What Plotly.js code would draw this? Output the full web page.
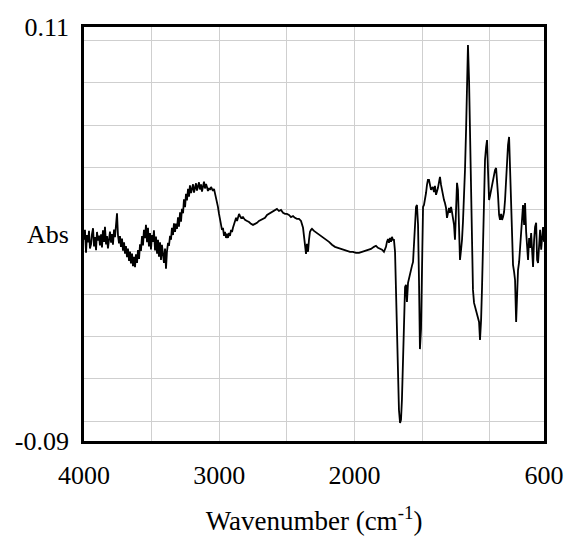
<!DOCTYPE html>
<html>
<head>
<meta charset="utf-8">
<script src="https://cdn.plot.ly/plotly-3.0.1.min.js"></script>
<style>html,body{margin:0;padding:0;background:#fff;}#chart{width:566px;height:536px;}</style>
</head>
<body>
<div id="chart"></div>
<script>
// Wavenumber (cm-1)
const wavenumber = [
4000,3993,3985,3978,3970,3963,3956,3948,3941,3933,3926,3919,3911,3904,3897,3889,3882,3874,3867,3860,
3852,3845,3837,3830,3823,3815,3808,3800,3793,3786,3778,3771,3763,3756,3749,3741,3734,3727,3719,3712,
3704,3697,3690,3682,3675,3667,3660,3653,3645,3638,3630,3623,3616,3608,3601,3593,3586,3579,3571,3564,
3557,3549,3542,3534,3527,3520,3512,3505,3497,3490,3483,3475,3468,3460,3453,3446,3438,3431,3424,3409,
3401,3394,3387,3379,3372,3364,3357,3350,3342,3335,3327,3320,3313,3305,3298,3290,3283,3276,3268,3261,
3253,3246,3239,3231,3224,3217,3209,3202,3194,3187,3180,3172,3165,3158,3150,3143,3135,3128,3121,3113,
3106,3098,3091,3084,3076,3069,3061,3054,3047,3039,3032,3024,3017,3010,3002,2995,2987,2980,2973,2965,
2958,2950,2943,2936,2928,2921,2913,2906,2899,2891,2884,2876,2869,2862,2854,2847,2839,2825,2810,2795,
2780,2766,2751,2736,2721,2707,2692,2677,2662,2647,2633,2618,2603,2588,2574,2559,2544,2529,2514,2500,
2485,2470,2455,2441,2426,2411,2396,2381,2374,2367,2359,2352,2344,2337,2330,2322,2315,2300,2278,2256,
2234,2211,2189,2167,2145,2123,2101,2078,2056,2034,2012,1990,1967,1945,1923,1901,1879,1857,1842,1827,
1812,1797,1783,1768,1761,1753,1746,1738,1731,1724,1716,1709,1701,1694,1687,1679,1672,1664,1657,1650,
1642,1635,1627,1620,1613,1605,1598,1591,1583,1576,1568,1561,1554,1546,1539,1531,1524,1517,1509,1502,
1494,1487,1480,1472,1465,1458,1450,1443,1435,1428,1421,1413,1406,1398,1391,1384,1376,1369,1361,1354,
1347,1339,1332,1324,1317,1310,1302,1295,1287,1280,1273,1265,1258,1250,1243,1236,1228,1221,1213,1206,
1199,1191,1184,1176,1169,1162,1154,1147,1139,1132,1125,1117,1102,1088,1080,1073,1065,1058,1051,1043,
1036,1028,1021,1014,1006,999,991,984,977,969,962,954,947,940,932,925,917,910,903,895,
888,880,873,866,858,851,843,836,829,821,814,806,799,792,784,777,769,762,755,747,
740,732,725,718,710,703,695,688,681,673,666,658,651,644,636,629,621,614,607,600
];
// Absorbance
const absorbance = [
0.0072,0.0120,0.0010,0.0095,0.0060,0.0115,0.0030,0.0050,0.0100,0.0128,0.0040,0.0085,0.0022,0.0110,0.0068,0.0092,0.0045,0.0098,0.0035,0.0118,
0.0062,0.0135,0.0050,0.0090,0.0030,0.0075,0.0112,0.0058,0.0100,0.0048,0.0122,0.0085,0.0150,0.0200,0.0095,0.0055,0.0090,0.0038,0.0078,0.0020,
0.0060,0.0005,0.0042,-0.0012,0.0030,-0.0030,0.0015,-0.0042,0.0005,-0.0055,-0.0010,-0.0060,0.0002,-0.0040,0.0022,-0.0020,0.0050,0.0018,0.0090,0.0045,
0.0120,0.0080,0.0145,0.0060,0.0130,0.0040,0.0105,0.0025,0.0095,0.0062,0.0118,0.0020,0.0088,0.0005,0.0072,-0.0010,0.0060,-0.0025,0.0048,-0.0040,
0.0030,-0.0068,0.0014,0.0057,0.0043,0.0091,0.0072,0.0130,0.0095,0.0152,0.0110,0.0150,0.0125,0.0180,0.0135,0.0205,0.0160,0.0222,0.0200,0.0268,
0.0230,0.0294,0.0262,0.0318,0.0280,0.0335,0.0298,0.0320,0.0340,0.0300,0.0325,0.0345,0.0310,0.0335,0.0350,0.0315,0.0340,0.0305,0.0330,0.0353,
0.0320,0.0342,0.0327,0.0308,0.0322,0.0313,0.0327,0.0313,0.0308,0.0318,0.0298,0.0284,0.0264,0.0231,0.0197,0.0168,0.0139,0.0120,0.0130,0.0091,
0.0110,0.0081,0.0101,0.0081,0.0105,0.0091,0.0120,0.0110,0.0130,0.0149,0.0168,0.0178,0.0163,0.0182,0.0197,0.0187,0.0178,0.0182,0.0168,0.0163,
0.0158,0.0149,0.0144,0.0149,0.0154,0.0163,0.0168,0.0173,0.0178,0.0192,0.0197,0.0206,0.0211,0.0216,0.0221,0.0211,0.0216,0.0202,0.0197,0.0197,
0.0192,0.0182,0.0187,0.0178,0.0173,0.0173,0.0163,0.0130,0.0081,0.0038,0.0004,0.0052,0.0014,0.0072,0.0110,0.0120,0.0125,0.0115,0.0105,0.0091,
0.0081,0.0072,0.0062,0.0048,0.0038,0.0033,0.0028,0.0024,0.0019,0.0014,0.0014,0.0009,0.0009,0.0014,0.0019,0.0024,0.0028,0.0038,0.0043,0.0033,
0.0028,0.0024,0.0014,0.0038,0.0062,0.0076,0.0057,0.0081,0.0062,0.0086,0.0072,0.0072,0.0014,-0.0170,-0.0359,-0.0605,-0.0750,-0.0813,-0.0798,-0.0701,
-0.0508,-0.0315,-0.0156,-0.0146,-0.0228,-0.0136,-0.0112,-0.0093,-0.0074,-0.0054,-0.0035,0.0072,0.0192,0.0231,0.0240,0.0144,-0.0122,-0.0456,-0.0359,0.0072,
0.0231,0.0240,0.0264,0.0298,0.0337,0.0361,0.0361,0.0342,0.0313,0.0322,0.0327,0.0303,0.0332,0.0289,0.0303,0.0322,0.0351,0.0376,0.0337,0.0313,
0.0279,0.0264,0.0250,0.0226,0.0178,0.0206,0.0226,0.0202,0.0231,0.0206,0.0178,0.0144,0.0072,0.0264,0.0347,0.0313,0.0168,-0.0025,0.0024,0.0072,
0.0158,0.0264,0.0409,0.0603,0.0820,0.1013,0.0844,0.0554,0.0313,0.0086,-0.0170,-0.0233,-0.0267,-0.0306,-0.0325,-0.0412,-0.0315,-0.0156,0.0072,0.0313,
0.0458,0.0520,0.0554,0.0409,0.0264,0.0284,0.0313,0.0337,0.0371,0.0395,0.0409,0.0419,0.0371,0.0289,0.0192,0.0168,0.0197,0.0168,0.0182,0.0206,
0.0264,0.0361,0.0482,0.0530,0.0569,0.0409,0.0216,0.0009,-0.0049,-0.0083,-0.0122,-0.0325,-0.0146,-0.0074,-0.0035,0.0024,0.0096,0.0168,0.0240,0.0144,
0.0250,0.0110,0.0048,-0.0025,0.0081,0.0033,0.0105,-0.0001,-0.0059,0.0072,0.0134,0.0154,-0.0025,-0.0040,0.0072,0.0120,0.0024,0.0086,0.0134,0.0062
];
const xTickVals = [4000,3500,3000,2500,2000,1500,1000,600];
const xTickText = ["4000","","3000","","2000","","","600"];
const yTickVals = [0.11,0.01,-0.09];
const yTickText = ["0.11","Abs","-0.09"];

const FONT = "Liberation Serif, Times New Roman, serif";

const traces = [
  {x: wavenumber, y: absorbance, type: 'scatter', mode: 'lines',
   line: {color: '#000', width: 1.8}, xaxis: 'x', yaxis: 'y', hoverinfo: 'skip'},
  {x: [], y: [], type: 'scatter', mode: 'lines', xaxis: 'x', yaxis: 'y2', hoverinfo: 'skip'}
];

const layout = {
  width: 566, height: 536,
  margin: {l: 84, r: 22, t: 27, b: 95},
  paper_bgcolor: '#fff', plot_bgcolor: '#fff',
  showlegend: false, hovermode: false,
  font: {family: FONT, size: 26, color: '#000'},
  xaxis: {
    range: [4000, 600], tickmode: 'array', tickvals: xTickVals, ticktext: xTickText,
    showgrid: true, gridcolor: '#cfcfcf', gridwidth: 1, zeroline: false,
    showline: true, mirror: true, linewidth: 3, linecolor: '#000',
    ticks: '', ticklabelstandoff: 9,
    tickfont: {family: FONT, size: 26, color: '#000'},
    title: {text: 'Wavenumber (cm<sup>-1</sup>)', standoff: 27,
            font: {family: FONT, size: 27, color: '#000'}},
    automargin: false
  },
  yaxis: {
    range: [-0.09, 0.11], tickmode: 'linear', tick0: -0.0804, dtick: 0.02043,
    showticklabels: false, showgrid: true, gridcolor: '#cfcfcf', gridwidth: 1,
    zeroline: false, showline: true, mirror: true, linewidth: 3, linecolor: '#000',
    ticks: '', automargin: false
  },
  yaxis2: {
    overlaying: 'y', side: 'left', anchor: 'x',
    range: [-0.09, 0.11], tickmode: 'array', tickvals: yTickVals, ticktext: yTickText,
    showgrid: false, zeroline: false, showline: false, ticks: '',
    ticklabelstandoff: 14,
    tickfont: {family: FONT, size: 26, color: '#000'},
    automargin: false
  }
};

Plotly.newPlot('chart', traces, layout, {staticPlot: true, displayModeBar: false});
</script>
</body>
</html>
